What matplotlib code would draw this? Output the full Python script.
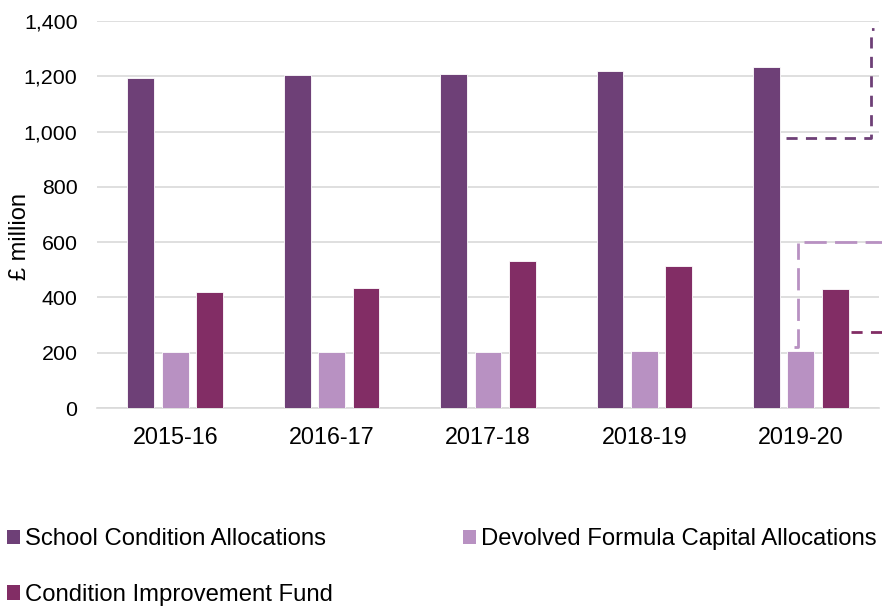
import numpy as np
import matplotlib.pyplot as plt
from matplotlib.patches import Patch

plt.rcParams["font.family"] = ["Liberation Sans", "DejaVu Sans"]

years = ["2015-16", "2016-17", "2017-18", "2018-19", "2019-20"]
school_condition = [1195, 1204, 1209, 1220, 1235]
devolved_formula = [201, 202, 204, 206, 208]
improvement_fund = [418, 435, 533, 515, 432]

series_names = ["School Condition Allocations",
                "Devolved Formula Capital Allocations",
                "Condition Improvement Fund"]
colors = ["#6E4077", "#B891C2", "#822D65"]

fig = plt.figure(figsize=(8.82, 6.07), dpi=100)
ax = fig.add_axes([97 / 882, 1 - 408 / 607, 782 / 882, 387 / 607])

x = np.arange(len(years))
width = 0.172
pitch = 0.22
for i, (vals, col) in enumerate(zip([school_condition, devolved_formula, improvement_fund], colors)):
    ax.bar(x + (i - 1) * pitch, vals, width, color=col, edgecolor="white",
           linewidth=0.6, zorder=3)

ax.set_xlim(-0.5, 4.5)
ax.set_ylim(0, 1400)
ax.set_yticks(range(0, 1401, 200))
ax.yaxis.set_major_formatter(plt.FuncFormatter(lambda v, p: f"{int(v):,}"))
ax.set_xticks(x)
ax.set_xticklabels(years, fontsize=16.8)
ax.tick_params(axis="y", labelsize=15.4, length=0, pad=14)
ax.tick_params(axis="x", length=0, pad=13)
ax.grid(axis="y", color="#d9d9d9", linewidth=1.2, zorder=0)
for s in ["top", "right", "left"]:
    ax.spines[s].set_visible(False)
ax.spines["bottom"].set_color("#d9d9d9")
ax.spines["bottom"].set_linewidth(1.2)

fig.text(20 / 882, 1 - 236 / 607, "£ million", rotation=90, fontsize=17,
         ha="center", va="center")

# callout lines for the 2019-20 bars (text boxes cropped off)
ax.plot([3.903, 4.446, 4.446, 4.465], [977, 977, 1371, 1371], color=colors[0],
        lw=2, ls=(0, (4, 3)), clip_on=False, zorder=4)
ax.plot([3.954, 3.979, 3.979], [221, 221, 597], color=colors[1],
        lw=2, ls=(0, (8, 3)), clip_on=False, zorder=4)
ax.plot([4.018, 4.52], [600, 600], color=colors[1],
        lw=2, ls=(0, (8, 3)), clip_on=False, zorder=4)
ax.plot([4.324, 4.52], [275, 275], color=colors[2],
        lw=2, ls=(0, (4, 3)), clip_on=False, zorder=4)

# legend filled row by row: order handles for matplotlib's column-first fill
order = [0, 2, 1]
handles = [Patch(facecolor=colors[k], edgecolor="none") for k in order]
labels = [series_names[k] for k in order]
fig.legend(handles, labels, loc="upper left", bbox_to_anchor=(0.0, 1 - 521 / 607),
           ncol=2, frameon=False, fontsize=17.2, handlelength=0.55, handleheight=0.55,
           handletextpad=0.2, columnspacing=5.45, labelspacing=1.42, borderaxespad=0,
           borderpad=0.3)

fig.savefig("out.png", dpi=100)
